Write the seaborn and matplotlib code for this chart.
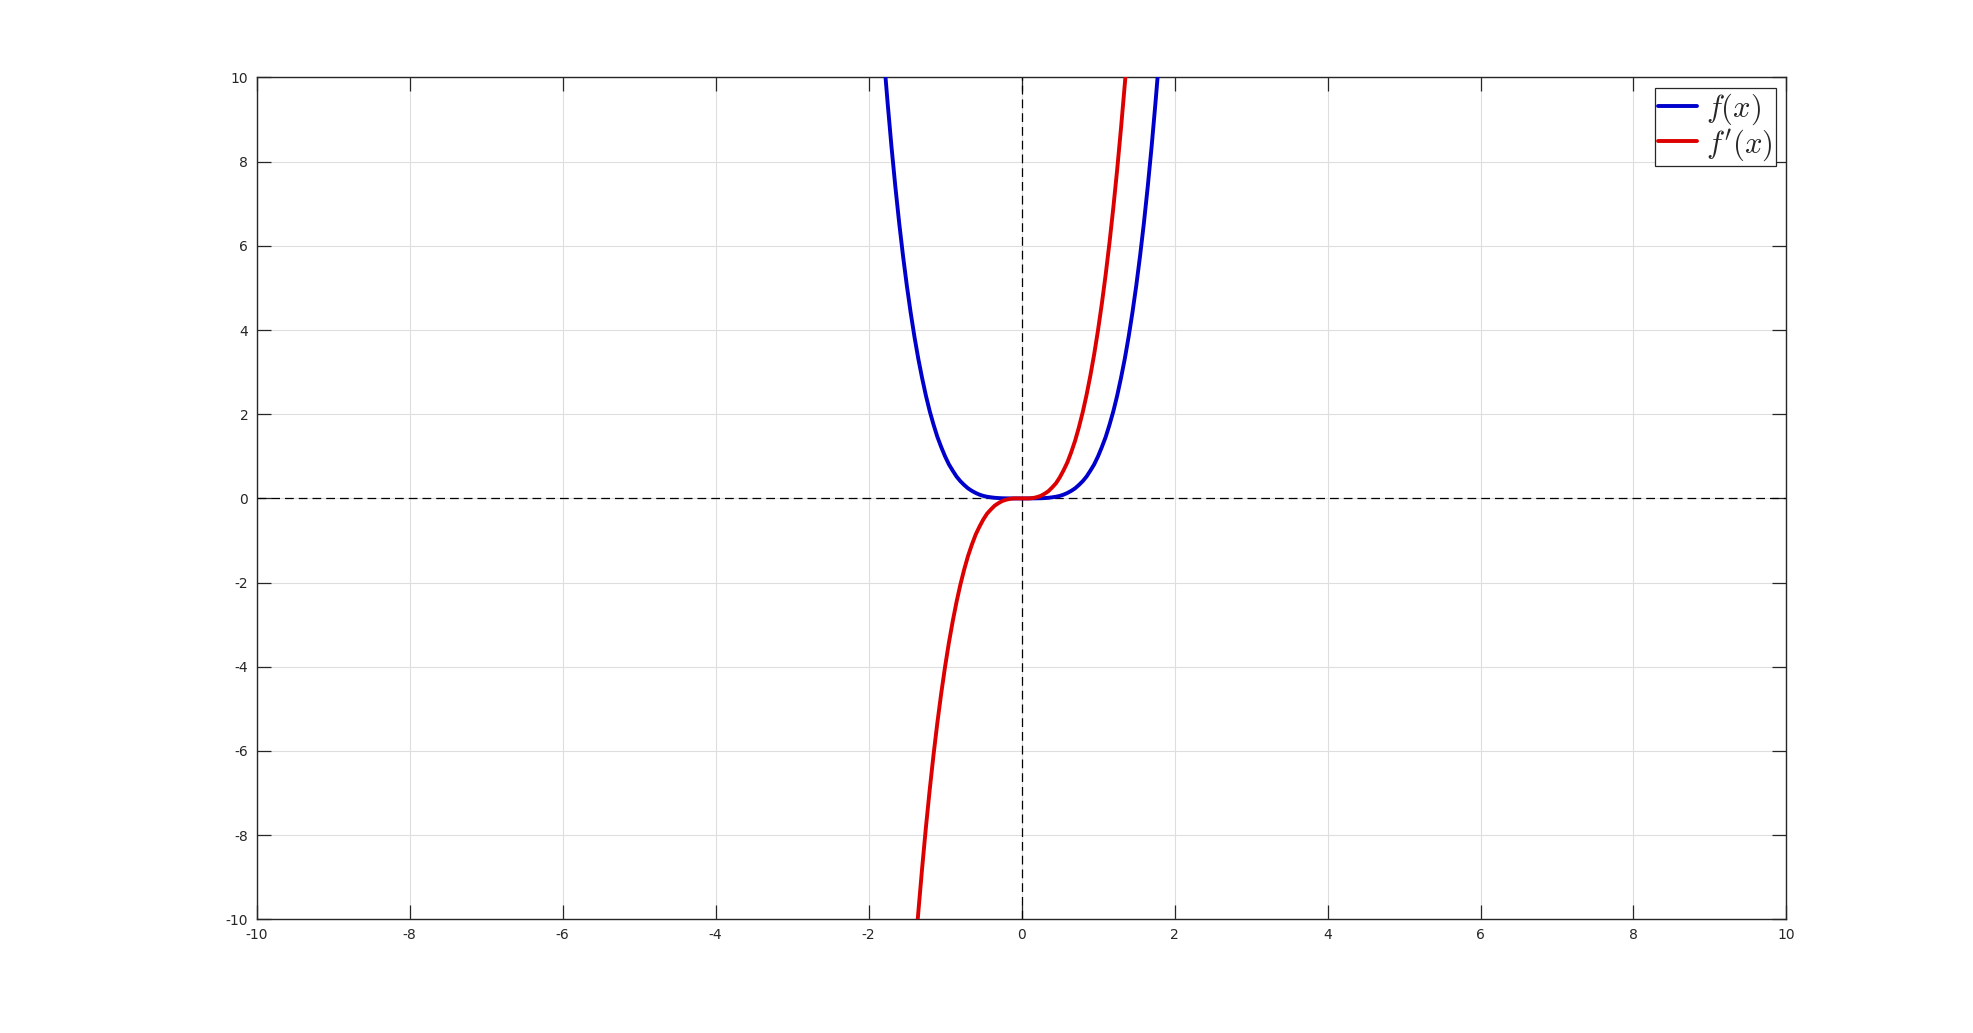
import matplotlib
matplotlib.use('Agg')
import matplotlib.pyplot as plt
import pandas as pd
import seaborn as sns

# values
f_x = [-1.78, -1.75, -1.7, -1.65, -1.6, -1.55, -1.5, -1.45, -1.4, -1.35, -1.3,
       -1.25, -1.2, -1.15, -1.1, -1.05, -1.0, -0.95, -0.9, -0.85, -0.8, -0.75,
       -0.7, -0.65, -0.6, -0.55, -0.5, -0.45, -0.4, -0.35, -0.3, -0.25, -0.2,
       -0.1, 0.0, 0.1, 0.2, 0.25, 0.3, 0.35, 0.4, 0.45, 0.5, 0.55, 0.6, 0.65,
       0.7, 0.75, 0.8, 0.85, 0.9, 0.95, 1.0, 1.05, 1.1, 1.15, 1.2, 1.25, 1.3,
       1.35, 1.4, 1.45, 1.5, 1.55, 1.6, 1.65, 1.7, 1.75, 1.78]
f_y = [10.04, 9.38, 8.35, 7.41, 6.55, 5.77, 5.06, 4.42, 3.84, 3.32, 2.86,
       2.44, 2.07, 1.75, 1.46, 1.22, 1.0, 0.81, 0.66, 0.52, 0.41, 0.32,
       0.24, 0.18, 0.13, 0.09, 0.06, 0.04, 0.026, 0.015, 0.008, 0.004, 0.002,
       0.0, 0.0, 0.0, 0.002, 0.004, 0.008, 0.015, 0.026, 0.04, 0.06, 0.09, 0.13, 0.18,
       0.24, 0.32, 0.41, 0.52, 0.66, 0.81, 1.0, 1.22, 1.46, 1.75, 2.07, 2.44, 2.86,
       3.32, 3.84, 4.42, 5.06, 5.77, 6.55, 7.41, 8.35, 9.38, 10.04]

df_x = [-1.36, -1.35, -1.3, -1.25, -1.2, -1.15, -1.1, -1.05, -1.0, -0.95, -0.9,
        -0.85, -0.8, -0.75, -0.7, -0.65, -0.6, -0.55, -0.5, -0.45, -0.4, -0.35,
        -0.3, -0.25, -0.2, -0.15, -0.1, 0.0, 0.1, 0.15, 0.2, 0.25, 0.3, 0.35,
        0.4, 0.45, 0.5, 0.55, 0.6, 0.65, 0.7, 0.75, 0.8, 0.85, 0.9, 0.95, 1.0,
        1.05, 1.1, 1.15, 1.2, 1.25, 1.3, 1.35, 1.36]
df_y = [-10.06, -9.84, -8.79, -7.81, -6.91, -6.08, -5.32, -4.63, -4.0, -3.43, -2.92,
        -2.46, -2.05, -1.69, -1.37, -1.10, -0.86, -0.67, -0.5, -0.36, -0.26, -0.17,
        -0.11, -0.06, -0.03, -0.01, 0.0, 0.0, 0.0, 0.01, 0.03, 0.06, 0.11, 0.17,
        0.26, 0.36, 0.5, 0.67, 0.86, 1.10, 1.37, 1.69, 2.05, 2.46, 2.92, 3.43, 4.0,
        4.63, 5.32, 6.08, 6.91, 7.81, 8.79, 9.84, 10.06]

x_ticks = [-10, -8, -6, -4, -2, 0, 2, 4, 6, 8, 10]
y_ticks = [-10, -8, -6, -4, -2, 0, 2, 4, 6, 8, 10]
labels = [r'$f(x)$', r"$f'(x)$"]

sns.set_style('ticks')
plt.rcParams['font.family'] = ['DejaVu Sans']
plt.rcParams['mathtext.fontset'] = 'cm'

fig = plt.figure(figsize=(19.74, 10.33), dpi=100)
ax = fig.add_axes([0.13, 0.11, 0.775, 0.815])

ax.grid(True, color='#dedede', linewidth=0.8)
ax.set_axisbelow(True)

# dashed axis lines through the origin
ax.axhline(0, color='black', linestyle=(0, (7, 4)), linewidth=0.9, zorder=1)
ax.axvline(0, color='black', linestyle=(0, (7, 4)), linewidth=0.9, zorder=1)

sns.lineplot(x=f_x, y=f_y, color='#0000cc', linewidth=2.8, label=labels[0],
             sort=False, ax=ax, zorder=3)
sns.lineplot(x=df_x, y=df_y, color='#dd0000', linewidth=2.8, label=labels[1],
             sort=False, ax=ax, zorder=3)

ax.set_xlim(-10, 10)
ax.set_ylim(-10, 10)
ax.set_xticks(x_ticks)
ax.set_yticks(y_ticks)
ax.set_xticklabels([str(t) for t in x_ticks])
ax.set_yticklabels([str(t) for t in y_ticks])
ax.tick_params(direction='in', length=10, width=0.9, labelsize=10,
               labelcolor='#262626', top=True, right=True, pad=6)
for s in ax.spines.values():
    s.set_color('#262626')
    s.set_linewidth(1.0)
    s.set_visible(True)

leg = ax.legend(loc='upper right', fontsize=22, frameon=True, fancybox=False,
                edgecolor='#262626', framealpha=1, borderaxespad=0.35,
                handlelength=1.25, handletextpad=0.3, borderpad=0.1,
                labelspacing=0.0)
leg.get_frame().set_linewidth(0.9)

fig.savefig('out.png', dpi=100)
